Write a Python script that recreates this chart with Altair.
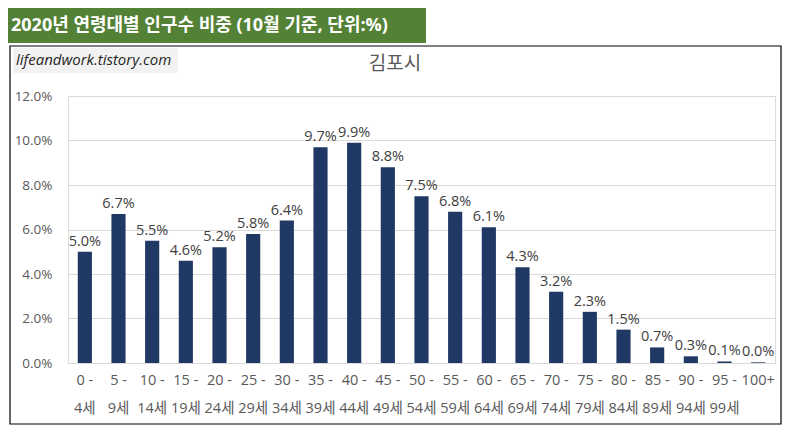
import altair as alt
import pandas as pd

categories = ["0 -\n4세", "5 -\n9세", "10 -\n14세", "15 -\n19세", "20 -\n24세", "25 -\n29세",
              "30 -\n34세", "35 -\n39세", "40 -\n44세", "45 -\n49세", "50 -\n54세", "55 -\n59세",
              "60 -\n64세", "65 -\n69세", "70 -\n74세", "75 -\n79세", "80 -\n84세", "85 -\n89세",
              "90 -\n94세", "95 -\n99세", "100+"]
values = [5.0, 6.7, 5.5, 4.6, 5.2, 5.8, 6.4, 9.7, 9.9, 8.8, 7.5, 6.8, 6.1, 4.3, 3.2, 2.3,
          1.5, 0.7, 0.3, 0.07, 0.03]
y_ticks = [0, 0.02, 0.04, 0.06, 0.08, 0.10, 0.12]

header_title = "2020년 연령대별 인구수 비중 (10월 기준, 단위:%)"
watermark = "lifeandwork.tistory.com"
chart_title = "김포시"

df = pd.DataFrame({"age": categories, "share": [v / 100 for v in values]})

FONT = "Open Sans, Noto Sans CJK KR"
KFONT = "Noto Sans CJK KR"

x_enc = alt.X("age:N", sort=categories,
              scale=alt.Scale(paddingInner=0.58, paddingOuter=0.29),
              axis=alt.Axis(title=None, labelAngle=0, ticks=False, domain=True,
                            domainColor="#d9d9d9", labelColor="#595959", labelFont=FONT,
                            labelFontSize=14.5, labelPadding=10, labelLineHeight=28,
                            labelExpr="split(datum.label, '\\n')"))
y_enc = alt.Y("share:Q", scale=alt.Scale(domain=[0, 0.12]),
              axis=alt.Axis(title=None, values=y_ticks, format=".1%", ticks=False, domain=False,
                            grid=True, gridColor="#d9d9d9", labelColor="#595959",
                            labelFont=FONT, labelFontSize=13.5, labelPadding=16))

base = alt.Chart(df)

bars = base.mark_bar(color="#1f3864").encode(x=x_enc, y=y_enc)
labels = base.mark_text(baseline="alphabetic", dy=-6, font=FONT, fontSize=14.5,
                        color="#404040").encode(
    x=alt.X("age:N", sort=categories), y="share:Q",
    text=alt.Text("share:Q", format=".1%"))

one = pd.DataFrame({"k": [0]})
deco = alt.Chart(one)

border = deco.mark_rect(fill="white", fillOpacity=0, stroke="#000000", strokeWidth=1.2,
                        clip=False).encode(
    x=alt.value(-58), x2=alt.value(713), y=alt.value(-50), y2=alt.value(328))
green = deco.mark_rect(fill="#538135", clip=False).encode(
    x=alt.value(-60), x2=alt.value(358), y=alt.value(-88), y2=alt.value(-53))
green_text = deco.mark_text(align="left", baseline="middle", font=FONT, fontSize=18,
                            fontWeight="bold", color="white", clip=False).encode(
    x=alt.value(-57), y=alt.value(-70), text=alt.value(header_title))
wm_box = deco.mark_rect(fill="#f2f2f2", clip=False).encode(
    x=alt.value(-55), x2=alt.value(110), y=alt.value(-48), y2=alt.value(-23))
wm_text = deco.mark_text(align="left", baseline="middle", font=FONT, fontSize=15,
                         fontStyle="italic", color="#262626", clip=False).encode(
    x=alt.value(-52), y=alt.value(-36), text=alt.value(watermark))
title_text = deco.mark_text(align="center", baseline="middle", font=KFONT, fontSize=19,
                            color="#595959", clip=False).encode(
    x=alt.value(327), y=alt.value(-32), text=alt.value(chart_title))

chart = alt.layer(border, bars, labels, green, green_text, wm_box, wm_text, title_text).properties(
    width=707, height=267,
    autosize=alt.AutoSizeParams(type="none"),
    padding={"left": 60, "top": 88, "right": 7, "bottom": 62},
).configure_view(stroke=None).configure(background="white")

chart.save("out.html", embed_options={"renderer": "svg", "actions": False})
